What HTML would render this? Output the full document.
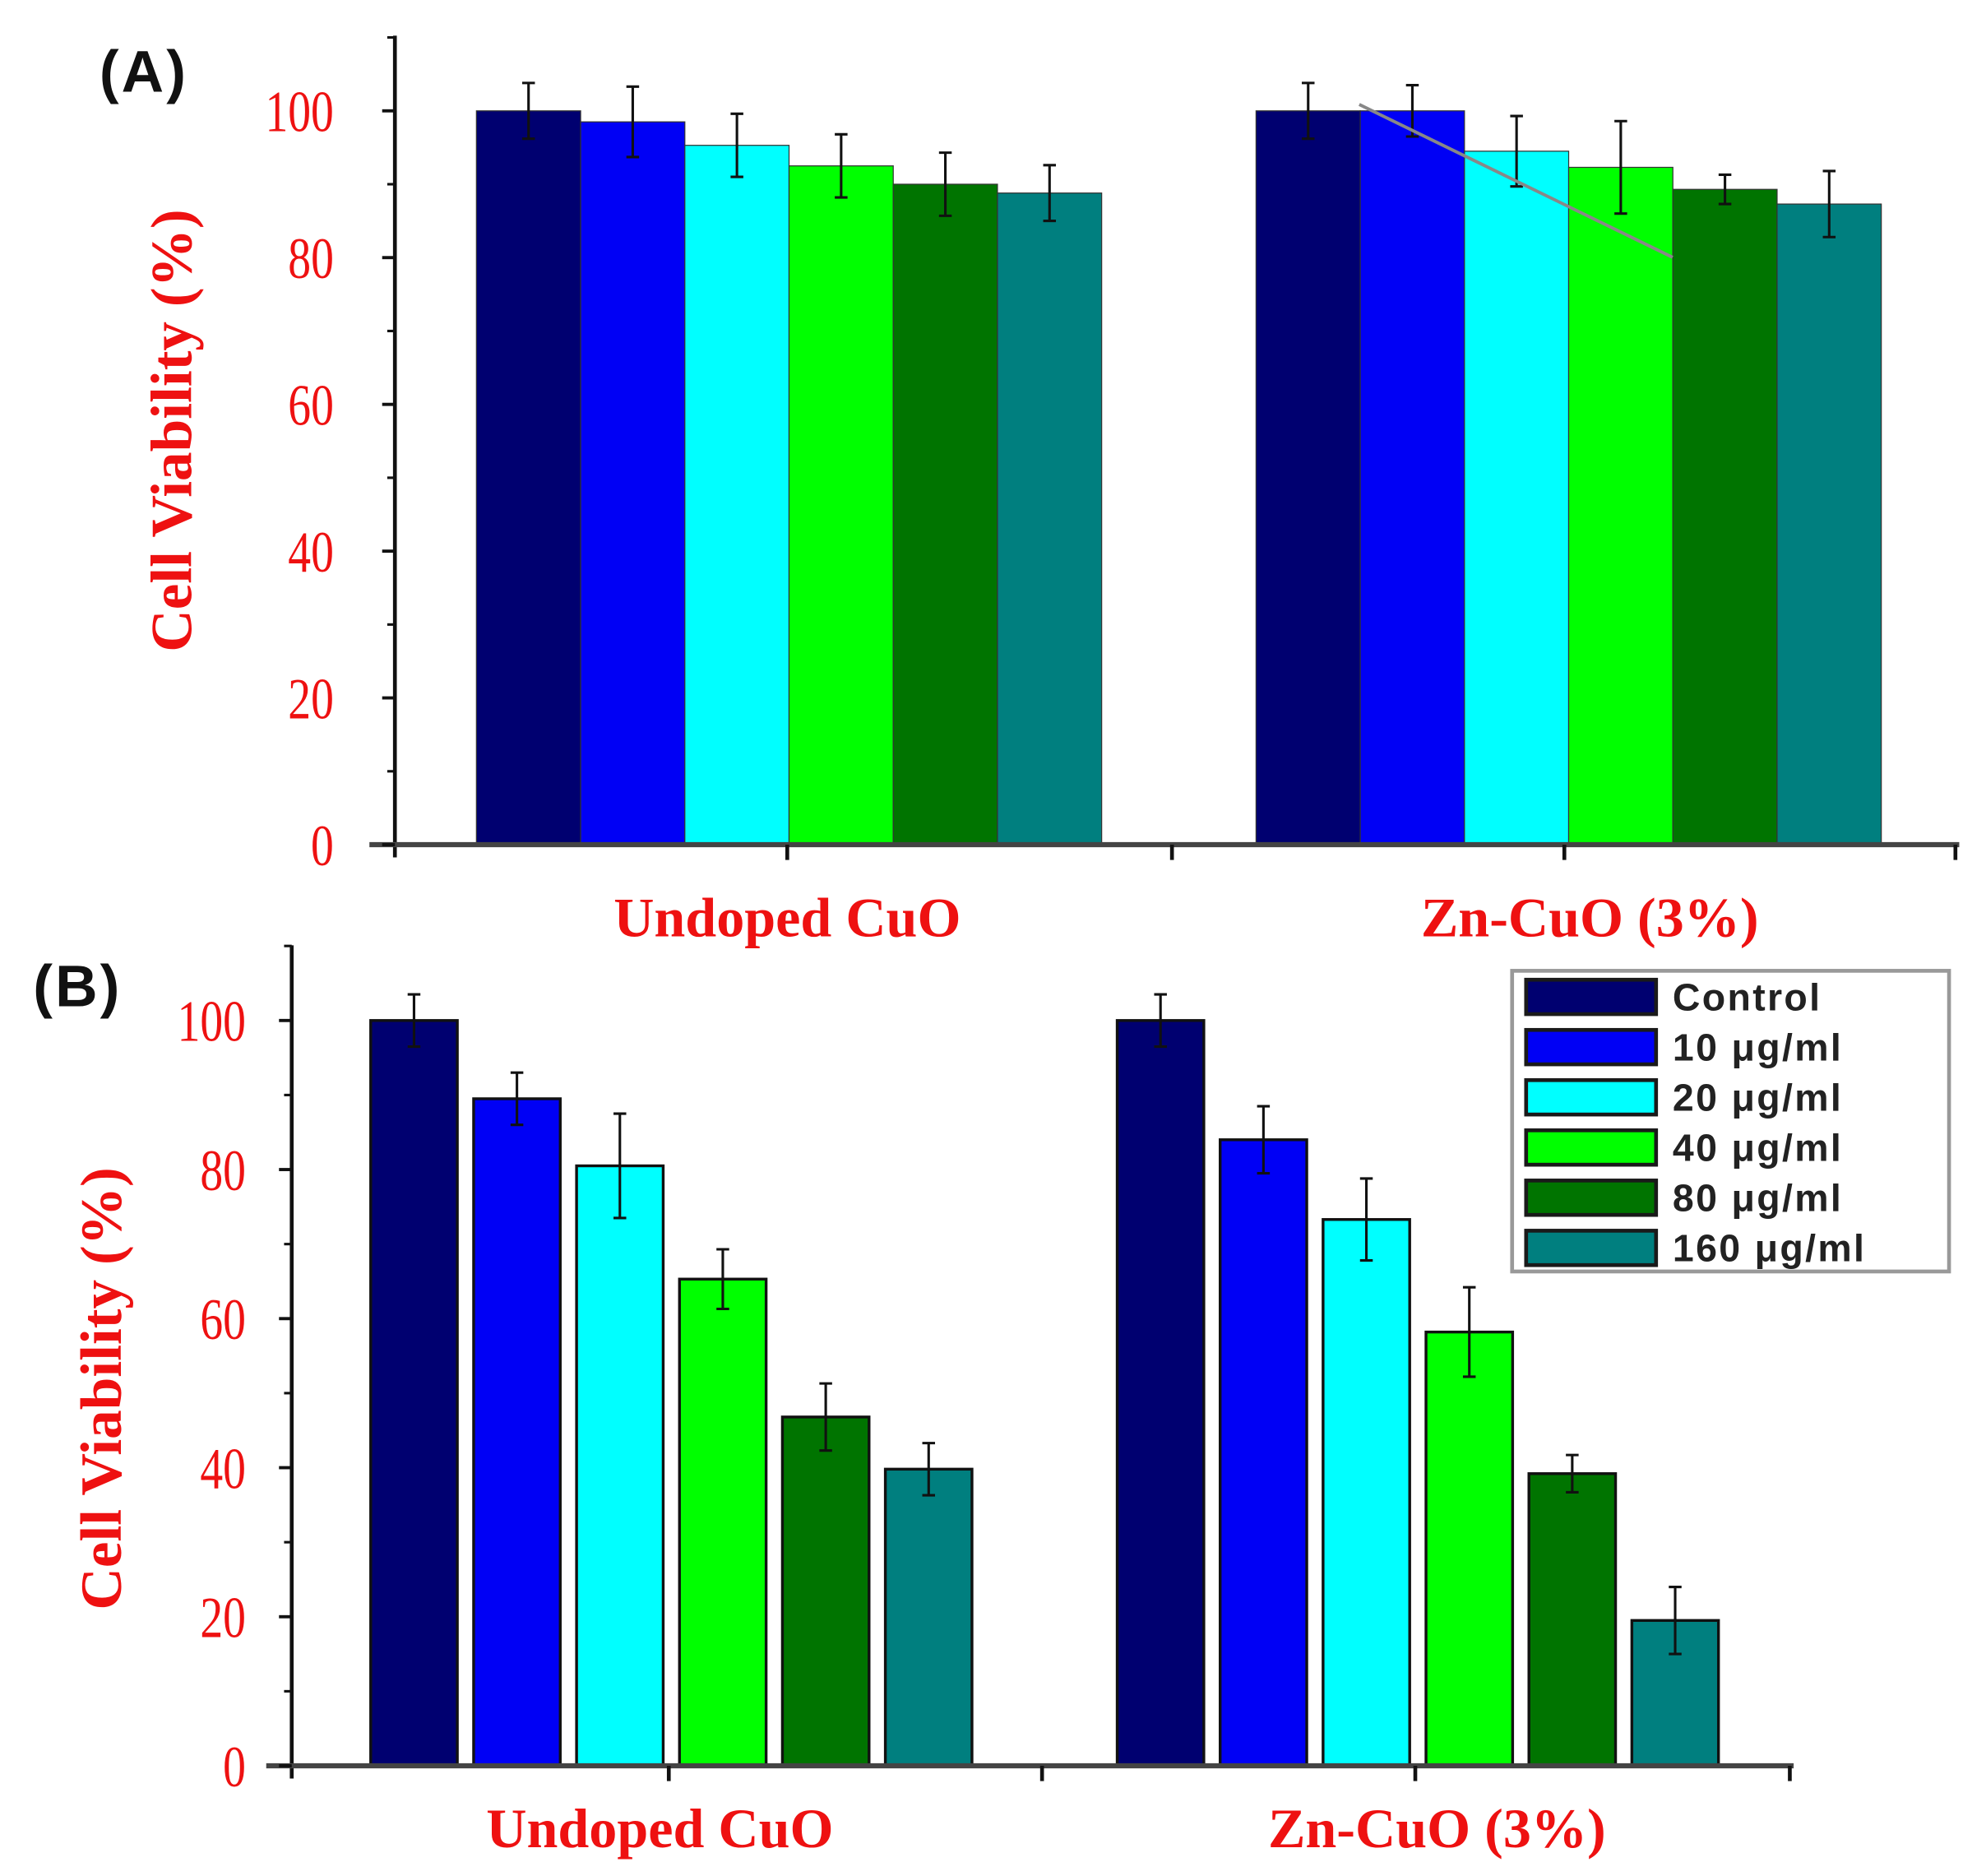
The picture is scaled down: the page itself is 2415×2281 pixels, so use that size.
<!DOCTYPE html>
<html><head><meta charset="utf-8"><style>
html,body{margin:0;padding:0;background:#fff}
svg{display:block}
</style></head><body>
<svg id="fig" width="2415" height="2281" viewBox="0 0 1559 1472.5" preserveAspectRatio="none" xmlns="http://www.w3.org/2000/svg">
<g id="pa"></g>
<g id="pb"></g>
</svg>
<script>
const categories = ["Undoped CuO", "Zn-CuO (3%)"];
const seriesNames = ["Control", "10 μg/ml", "20 μg/ml", "40 μg/ml", "80 μg/ml", "160 μg/ml"];
const yTicks = [0, 20, 40, 60, 80, 100];
const valuesA = [[100, 98.5, 95.3, 92.5, 90, 88.8], [100, 100, 94.5, 92.3, 89.3, 87.3]];
const errorsA = [[3.8, 4.8, 4.3, 4.3, 4.3, 3.8], [3.8, 3.5, 4.8, 6.3, 2.0, 4.5]];
const valuesB = [[100, 89.5, 80.5, 65.3, 46.8, 39.8], [100, 84, 73.3, 58.2, 39.2, 19.5]];
const errorsB = [[3.5, 3.5, 7.0, 4.0, 4.5, 3.5], [3.5, 4.5, 5.5, 6.0, 2.5, 4.5]];
const colors = ["#000070", "#0000f5", "#00ffff", "#00ff00", "#007400", "#007f7f"];
const NS = "http://www.w3.org/2000/svg";
function mk(parent, tag, attrs, text) {
  const e = document.createElementNS(NS, tag);
  for (const k in attrs) e.setAttribute(k, attrs[k]);
  if (text !== undefined) e.textContent = text;
  parent.appendChild(e);
  return e;
}
function panel(g, cfg, values, errors) {
  const y = v => cfg.y0 - (cfg.y0 - cfg.y100) * v / 100;
  values.forEach((grp, gi) => {
    grp.forEach((v, si) => {
      const x = cfg.gx[gi] + si * cfg.step;
      const r = mk(g, "rect", {x: x, y: y(v), width: cfg.bw, height: cfg.y0 - y(v), fill: colors[si], stroke: cfg.outline ? "#111" : "#333", "stroke-width": cfg.outline ? 2.2 : 0.8});
      
      
      const cx = x + cfg.bw / 2, e = errors[gi][si];
      const eb = mk(g, "path", {d: `M${cx},${y(v + e)}V${y(v - e)}M${cx - 5},${y(v + e)}H${cx + 5}M${cx - 5},${y(v - e)}H${cx + 5}`, stroke: "#111", "stroke-width": 2, fill: "none"});
      
      
    });
  });
  const ya = mk(g, "line", {x1: cfg.ax, y1: cfg.ytop, x2: cfg.ax, y2: cfg.y0 + 10, stroke: "#111", "stroke-width": 3});
  
  
  const xa = mk(g, "line", {x1: cfg.ax - 20, y1: cfg.y0, x2: cfg.xend, y2: cfg.y0, stroke: "#444", "stroke-width": 4});
  
  
  cfg.xt.forEach(t => { mk(g, "line", {x1: t, y1: cfg.y0, x2: t, y2: cfg.y0 + 12, stroke: "#111", "stroke-width": 3}); });
  yTicks.forEach(t => {
    mk(g, "line", {x1: cfg.ax - 10, y1: y(t), x2: cfg.ax, y2: y(t), stroke: "#111", "stroke-width": 2.5});
    mk(g, "line", {x1: cfg.ax - 6, y1: y(t + 10), x2: cfg.ax, y2: y(t + 10), stroke: "#111", "stroke-width": 2});
    const lx = cfg.ax - cfg.tgap;
    const tl = mk(g, "text", {x: lx, y: y(t) + 16, "text-anchor": "end", fill: "#ee1111", "font-size": 46, "font-family": "Liberation Serif, serif", transform: `translate(${lx},${y(t)}) scale(0.78,1) translate(${-lx},${-y(t)})`}, t);
    
    
  });
  const yt = mk(g, "text", {x: 0, y: 0, "text-anchor": "middle", fill: "#ee1111", "font-size": 46, "font-weight": "bold", "font-family": "Liberation Serif, serif", transform: `translate(${cfg.titleX},${cfg.titleY}) rotate(-90)`}, "Cell Viability (%)");
  
  
  categories.forEach((c, i) => {
    const t = mk(g, "text", {x: cfg.cx[i], y: cfg.cy, "text-anchor": "middle", fill: "#ee1111", "font-size": 44, "font-weight": "bold", "font-family": "Liberation Serif, serif"}, c);
    
    
  });
  const pl = mk(g, "text", {x: cfg.lx, y: cfg.ly, fill: "#111", "font-size": 46, "font-weight": "bold", "font-family": "Liberation Sans, sans-serif", "letter-spacing": 2}, cfg.label);
  
  
}
const pa = document.getElementById("pa"), pb = document.getElementById("pb");
panel(pa, {y0: 663, y100: 87, ytop: 28, ax: 310, xend: 1538, xt: [618, 920, 1228, 1535], gx: [374, 986], step: 81.8, bw: 81.8, outline: false, tgap: 48,
  titleX: 150, titleY: 338, cx: [618, 1248], cy: 735, lx: 78, ly: 72, label: "(A)"}, valuesA, errorsA);
panel(pb, {y0: 1386, y100: 801, ytop: 742, ax: 229, xend: 1408, xt: [525, 818, 1111, 1405], gx: [291, 877], step: 80.8, bw: 68, outline: true, tgap: 36,
  titleX: 95, titleY: 1090, cx: [518, 1128], cy: 1450, lx: 26, ly: 790, label: "(B)"}, valuesB, errorsB);
const gl = mk(pa, "line", {x1: 1067, y1: 82, x2: 1313, y2: 202, stroke: "#888", "stroke-width": 2.5});


const lg = mk(pb, "g", {});


mk(lg, "rect", {x: 1187, y: 762, width: 343, height: 236, fill: "#fff", stroke: "#999", "stroke-width": 3});
seriesNames.forEach((n, i) => {
  const cy = 782 + i * 39.4;
  const sw = mk(lg, "rect", {x: 1198, y: cy - 13, width: 102, height: 27, fill: colors[i], stroke: "#1a1a1a", "stroke-width": 3});
  
  
  const t = mk(lg, "text", {x: 1313, y: cy + 11, fill: "#222", "font-size": 30, "font-weight": "bold", "font-family": "Liberation Sans, sans-serif", "letter-spacing": 1.5}, n);
  
  
});
</script>
</body></html>
